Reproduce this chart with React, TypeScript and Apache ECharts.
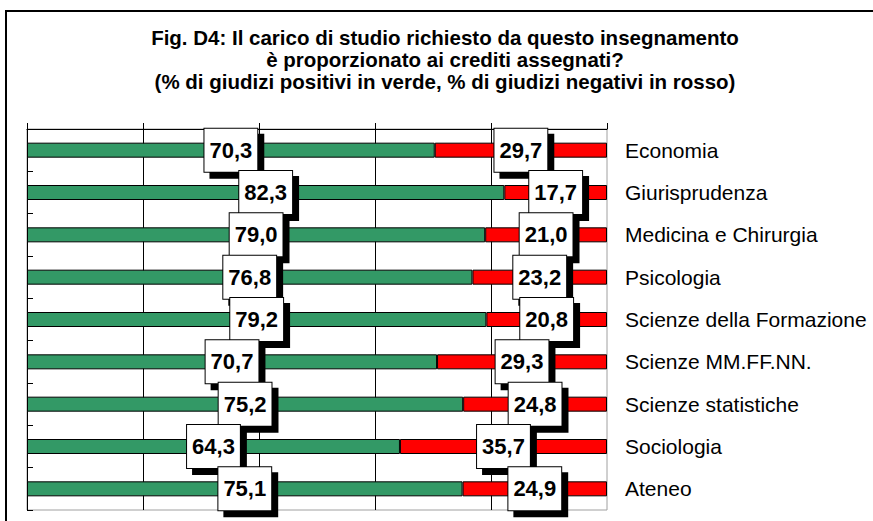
import React, { useEffect, useRef } from "react";
import * as echarts from "echarts";

const categories = [
  "Economia",
  "Giurisprudenza",
  "Medicina e Chirurgia",
  "Psicologia",
  "Scienze della Formazione",
  "Scienze MM.FF.NN.",
  "Scienze statistiche",
  "Sociologia",
  "Ateneo",
];
const positive = [70.3, 82.3, 79.0, 76.8, 79.2, 70.7, 75.2, 64.3, 75.1];
const negative = [29.7, 17.7, 21.0, 23.2, 20.8, 29.3, 24.8, 35.7, 24.9];
const xTicks = [0, 20, 40, 60, 80, 100];

const FONT = 'Arial, "Liberation Sans", sans-serif';

const labelStyle = {
  show: true,
  position: "inside",
  formatter: (p: any) => Number(p.value).toFixed(1).replace(".", ","),
  color: "#000",
  fontFamily: FONT,
  fontWeight: "bold",
  fontSize: 22,
  lineHeight: 22,
  backgroundColor: "#fff",
  borderColor: "#000",
  borderWidth: 1,
  padding: [11, 5, 10, 5],
  shadowColor: "#000",
  shadowBlur: 0,
  shadowOffsetX: 6,
  shadowOffsetY: 6,
};

export default function App() {
  const ref = useRef<HTMLDivElement>(null);
  useEffect(() => {
    if (!ref.current) return;
    const chart = echarts.init(ref.current, null, { renderer: "svg" });
    chart.setOption({
      animation: false,
      backgroundColor: "#fff",
      title: {
        text:
          "Fig. D4: Il carico di studio richiesto da questo insegnamento\nè proporzionato ai crediti assegnati?\n(% di giudizi positivi in verde, % di giudizi negativi in rosso)",
        left: 440,
        textAlign: "center",
        top: 21,
        textStyle: {
          fontFamily: FONT,
          fontWeight: "bold",
          fontSize: 20.5,
          lineHeight: 22,
          color: "#000",
        },
      },
      graphic: [
        {
          type: "rect",
          shape: { x: 6, y: 11, width: 1000, height: 1000 },
          style: { fill: "none", stroke: "#000", lineWidth: 2 },
          silent: true,
        },
      ],
      grid: {
        left: 27,
        right: 266,
        top: 129,
        bottom: 11,
        show: true,
        borderColor: "#a0a0a0",
        borderWidth: 1,
      },
      xAxis: {
        type: "value",
        position: "top",
        min: xTicks[0],
        max: xTicks[xTicks.length - 1],
        interval: 20,
        axisLine: { show: true, lineStyle: { color: "#000", width: 1 } },
        axisTick: { show: true, length: 6, lineStyle: { color: "#000" } },
        axisLabel: { show: false },
        splitLine: {
          show: true,
          showMinLine: false,
          showMaxLine: false,
          lineStyle: { color: "#000", width: 1 },
        },
      },
      yAxis: {
        type: "category",
        data: categories,
        inverse: true,
        position: "right",
        axisLine: { show: true, lineStyle: { color: "#000", width: 1 } },
        axisTick: { show: true, length: 6, lineStyle: { color: "#000" } },
        axisLabel: {
          color: "#000",
          fontFamily: FONT,
          fontSize: 21,
          margin: 18,
        },
        splitLine: { show: false },
      },
      series: [
        {
          type: "bar",
          stack: "tot",
          data: positive,
          barWidth: 15,
          itemStyle: { color: "#339966", borderColor: "#000", borderWidth: 1 },
          label: labelStyle,
        },
        {
          type: "bar",
          stack: "tot",
          data: negative,
          barWidth: 15,
          itemStyle: { color: "#ff0000", borderColor: "#000", borderWidth: 1 },
          label: labelStyle,
        },
      ],
    });
    return () => chart.dispose();
  }, []);
  return (
    <div
      ref={ref}
      style={{ position: "fixed", left: 0, top: 0, width: 873, height: 521 }}
    />
  );
}
